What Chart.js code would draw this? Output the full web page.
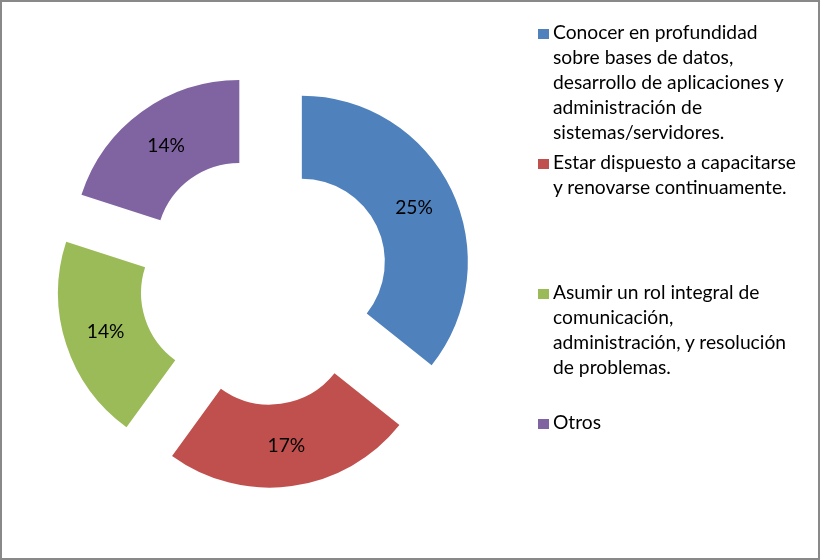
<!DOCTYPE html>
<html><head><meta charset="utf-8">
<script src="https://cdn.jsdelivr.net/npm/chart.js@4.4.0/dist/chart.umd.min.js"></script>
<style>
html,body{margin:0;padding:0;background:#fff;}
#frame{position:absolute;left:0;top:0;width:820px;height:560px;box-sizing:border-box;border:2px solid #898989;pointer-events:none;}
#wrap{position:absolute;left:0;top:0;width:528px;height:560px;}
#legend{position:absolute;left:0;top:0;width:820px;height:560px;}
.sw{position:absolute;width:11px;height:10px;}
.ln{position:absolute;white-space:nowrap;line-height:25px;color:#000;}
</style></head>
<body>
<div id="wrap"><canvas id="c"></canvas></div>
<div id="legend"></div>
<div id="frame"></div>
<script>
// ---- data ----
const categoryLines = [
  ["Conocer en profundidad", "sobre bases de datos,", "desarrollo de aplicaciones y", "administración de", "sistemas/servidores."],
  ["Estar dispuesto a capacitarse", "y renovarse continuamente."],
  ["Asumir un rol integral de", "comunicación,", "administración, y resolución", "de problemas."],
  ["Otros"]
];
const categories = categoryLines.map(l => l.join(' '));
const values = [25, 17, 14, 14];
const valueLabels = ["25%", "17%", "14%", "14%"];
const colors = ["#4F81BD", "#C0504D", "#9BBB59", "#8064A2"];

// ---- font fitting (Calibri substitute) ----
const FAMILY = "Lato";
const mctx = document.createElement('canvas').getContext('2d');
mctx.font = "20px " + FAMILY;
const fs = 20 * 205 / mctx.measureText("Conocer en profundidad").width;
mctx.font = fs + "px " + FAMILY;
const fm = mctx.measureText("Conocer");
const asc = fm.fontBoundingBoxAscent, desc = fm.fontBoundingBoxDescent;
const LH = 25;
const baseOff = (LH - (asc + desc)) / 2 + asc;

// ---- legend (HTML) ----
const legend = document.getElementById('legend');
categoryLines.forEach((lines, i) => {
  const base = 39 + 130 * i;
  const sw = document.createElement('div');
  sw.className = 'sw';
  sw.style.left = '538px';
  sw.style.top = (base - 10) + 'px';
  sw.style.background = colors[i];
  legend.appendChild(sw);
  lines.forEach((t, k) => {
    const d = document.createElement('div');
    d.className = 'ln';
    d.style.left = '553px';
    d.style.top = (base + LH * k - baseOff) + 'px';
    d.style.font = fs + 'px ' + FAMILY;
    d.style.lineHeight = LH + 'px';
    d.textContent = t;
    legend.appendChild(d);
  });
});

// ---- chart ----
const EXPLODE = 42;
const explodePlugin = {
  id: 'explode',
  beforeDatasetsDraw(chart) {
    const a = chart.chartArea;
    const cx = (a.left + a.right) / 2, cy = (a.top + a.bottom) / 2;
    chart.getDatasetMeta(0).data.forEach(arc => {
      const m = (arc.startAngle + arc.endAngle) / 2;
      arc.x = cx + Math.cos(m) * EXPLODE;
      arc.y = cy + Math.sin(m) * EXPLODE;
    });
  }
};
const labelPlugin = {
  id: 'pctLabels',
  afterDatasetsDraw(chart) {
    const ctx = chart.ctx;
    ctx.save();
    ctx.font = fs + 'px ' + FAMILY;
    ctx.fillStyle = '#000';
    ctx.textAlign = 'center';
    ctx.textBaseline = 'alphabetic';
    chart.getDatasetMeta(0).data.forEach((arc, i) => {
      const p = arc.tooltipPosition();
      ctx.fillText(valueLabels[i], p.x, p.y + 0.34 * fs);
    });
    ctx.restore();
  }
};

new Chart(document.getElementById('c'), {
  type: 'doughnut',
  data: {
    labels: categories,
    datasets: [{ data: values, backgroundColor: colors, borderWidth: 0 }]
  },
  options: {
    responsive: true,
    maintainAspectRatio: false,
    animation: false,
    events: [],
    radius: 166,
    cutout: '50%',
    layout: { padding: 0 },
    plugins: { legend: { display: false }, tooltip: { enabled: false } }
  },
  plugins: [explodePlugin, labelPlugin]
});
</script>
</body></html>
